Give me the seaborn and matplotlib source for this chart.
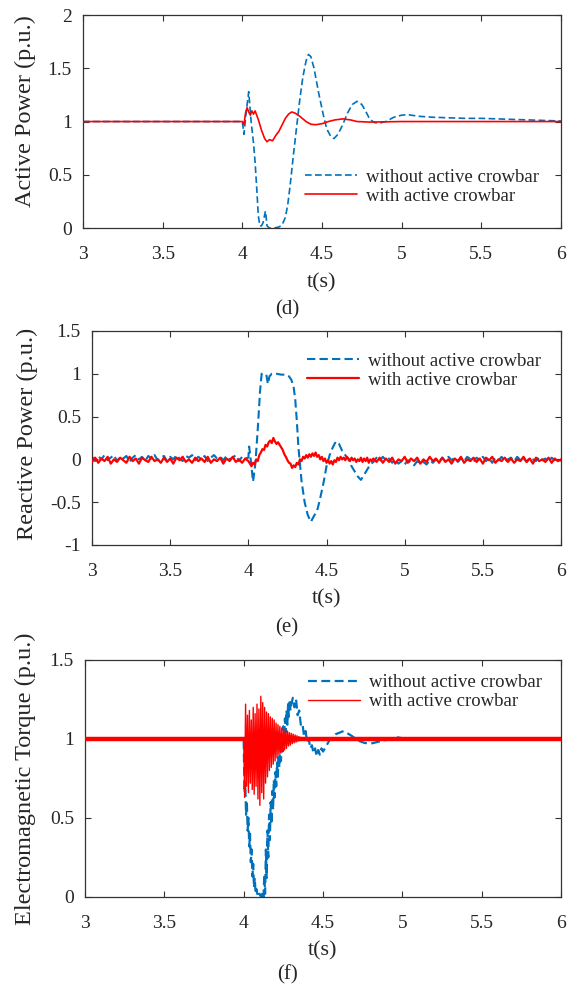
import numpy as np
import pandas as pd
import matplotlib
matplotlib.use("Agg")
import matplotlib.pyplot as plt
import seaborn as sns
from matplotlib.ticker import FuncFormatter

sns.set_theme(style="white")
plt.rcParams["font.family"] = ["Liberation Serif", "DejaVu Serif"]
plt.rcParams["axes.unicode_minus"] = False

BLUE = "#0072BD"
RED = "#FF0000"
LBL_WO = "without active crowbar"
LBL_W = "with active crowbar"

# ---- (d) active power ----
t_p_wo = [3.0, 4.0, 4.01, 4.025, 4.04, 4.055, 4.07, 4.08, 4.09, 4.10, 4.11, 4.12, 4.13,
          4.145, 4.155, 4.17, 4.20, 4.23, 4.25, 4.27, 4.285, 4.30, 4.32, 4.34, 4.36, 4.38,
          4.40, 4.415, 4.43, 4.45, 4.48, 4.51, 4.53, 4.555, 4.575, 4.60, 4.63, 4.66, 4.69,
          4.72, 4.75, 4.78, 4.80, 4.83, 4.86, 4.90, 4.95, 5.00, 5.04, 5.10, 5.20, 5.30,
          5.40, 5.50, 5.60, 5.70, 5.80, 5.90, 6.00]
p_wo = [1.0, 1.0, 0.88, 1.10, 1.28, 1.00, 0.80, 0.62, 0.38, 0.12, 0.02, 0.02, 0.05,
        0.16, 0.02, 0.0, 0.0, 0.01, 0.03, 0.10, 0.22, 0.40, 0.68, 0.94, 1.20, 1.42,
        1.57, 1.63, 1.61, 1.50, 1.26, 1.05, 0.93, 0.86, 0.84, 0.88, 0.97, 1.08, 1.16,
        1.19, 1.16, 1.08, 1.02, 0.99, 0.985, 1.0, 1.04, 1.06, 1.065, 1.05, 1.04, 1.035,
        1.03, 1.03, 1.025, 1.02, 1.015, 1.01, 1.005]

t_p_w = [3.0, 4.0, 4.01, 4.02, 4.03, 4.04, 4.05, 4.06, 4.07, 4.08, 4.09, 4.10, 4.12,
         4.14, 4.155, 4.17, 4.19, 4.21, 4.23, 4.25, 4.27, 4.29, 4.31, 4.33, 4.36, 4.40,
         4.43, 4.46, 4.50, 4.54, 4.58, 4.63, 4.68, 4.72, 4.80, 5.0, 6.0]
p_w = [1.0, 1.0, 0.97, 1.08, 1.13, 1.09, 1.06, 1.10, 1.07, 1.10, 1.06, 1.02, 0.92,
       0.84, 0.81, 0.83, 0.82, 0.87, 0.91, 0.97, 1.03, 1.07, 1.09, 1.08, 1.05, 1.0,
       0.975, 0.97, 0.98, 1.0, 1.015, 1.025, 1.015, 1.0, 0.995, 1.0, 1.0]

# ---- (e) reactive power ----
q_wo_pre = [0.03, -0.02, 0.04, 0.0, 0.05, -0.01, 0.02, 0.05, -0.02, 0.03, 0.01, 0.04,
            -0.03, 0.02, 0.05, 0.0, 0.03, -0.02, 0.04, 0.01, 0.05, -0.01, 0.02, 0.04,
            -0.02, 0.03, 0.0, 0.05, 0.01, -0.02, 0.04, 0.02, 0.05, -0.01, 0.03, 0.0,
            0.04, -0.02, 0.02, 0.05, 0.01, 0.03, -0.01, 0.04, 0.0, 0.02, 0.05, -0.02,
            0.03, 0.01]
t_q_wo_mid = [4.00, 4.005, 4.015, 4.03, 4.045, 4.06, 4.075, 4.085, 4.10, 4.115, 4.125,
              4.135, 4.15, 4.18, 4.21, 4.24, 4.26, 4.275, 4.29, 4.30, 4.31, 4.32, 4.34,
              4.36, 4.38, 4.40, 4.42, 4.44, 4.46, 4.48, 4.50, 4.52, 4.54, 4.56, 4.58,
              4.60, 4.62, 4.64, 4.66, 4.68, 4.70, 4.72, 4.74, 4.76, 4.78]
q_wo_mid = [0.02, 0.15, 0.0, -0.26, -0.05, 0.35, 0.80, 1.0, 1.0, 0.99, 0.88, 0.97, 1.0,
            1.0, 0.99, 0.99, 0.97, 0.93, 0.84, 0.70, 0.45, 0.15, -0.25, -0.50, -0.65,
            -0.73, -0.66, -0.60, -0.45, -0.28, -0.08, 0.05, 0.14, 0.21, 0.18, 0.10,
            0.05, 0.0, -0.08, -0.14, -0.20, -0.24, -0.18, -0.12, -0.06]
q_wo_post = [-0.03, 0.02, -0.02, 0.03, -0.01, 0.01, -0.04, 0.0, -0.05, -0.02, -0.06,
             -0.01, -0.04, -0.07, -0.02, -0.05, -0.03, -0.06, -0.01, -0.04, 0.0, -0.03,
             0.02, -0.02, 0.03, -0.01, 0.02, -0.03, 0.01, -0.02, 0.03, 0.0, -0.03, 0.02,
             -0.01, 0.03, -0.02, 0.01, -0.04, 0.02, -0.01, 0.03, -0.03, 0.0, 0.02, -0.02,
             0.03, -0.01, 0.01, -0.03, 0.02, 0.0, -0.02, 0.03, -0.01, 0.01, -0.03, 0.02,
             -0.01, 0.01, -0.02]

q_w_pre = [-0.03, 0.02, -0.04, 0.01, -0.02, 0.03, -0.05, 0.0, -0.03, 0.02, -0.01, -0.04,
           0.03, -0.02, 0.01, -0.05, 0.02, -0.01, -0.03, 0.03, -0.02, 0.0, -0.04, 0.02,
           -0.03, 0.01, -0.05, 0.02, -0.01, 0.03, -0.03, 0.0, -0.04, 0.02, -0.02, 0.01,
           -0.03, 0.03, -0.04, 0.0, -0.02, 0.02, -0.05, 0.01, -0.02, 0.03, -0.03, 0.0,
           -0.04, 0.01]
q_w_mid = [-0.02, -0.05, -0.08, -0.04, -0.06, 0.0, -0.02, 0.05, 0.08, 0.12, 0.11, 0.17,
           0.15, 0.20, 0.22, 0.19, 0.25, 0.21, 0.18, 0.20, 0.17, 0.14, 0.11, 0.06, 0.03,
           -0.01, -0.04, -0.05, -0.10, -0.07, -0.09, -0.04, -0.06, 0.0, -0.02, 0.03, 0.01,
           0.05, 0.02, 0.06, 0.03, 0.07, 0.04, 0.08, 0.03, 0.05, 0.0, 0.03, -0.02, 0.01,
           -0.04, -0.01, -0.05, -0.02, -0.06, -0.01, -0.03, 0.02, -0.01, 0.03, 0.0, 0.02,
           -0.01, 0.03, 0.01, -0.02, 0.02, -0.01, 0.01, -0.03, 0.0, -0.02, 0.02, -0.03,
           0.01, -0.02, 0.02, -0.04, 0.0, -0.02, 0.01]
q_w_post = [-0.03, 0.02, -0.04, 0.01, -0.03, 0.02, -0.05, 0.0, -0.02, 0.03, -0.04, 0.01,
            -0.02, 0.02, -0.05, 0.0, -0.03, 0.03, -0.02, 0.01, -0.04, 0.02, -0.03, 0.0,
            -0.05, 0.01, -0.02, 0.03, -0.04, 0.0, -0.02, 0.02, -0.03, 0.01, -0.05, 0.02,
            -0.01, 0.03, -0.04, 0.0, -0.02, 0.02, -0.03, 0.01, -0.04, 0.0, -0.02, 0.03,
            -0.03, 0.01, -0.05, 0.02, -0.02, 0.0, -0.03, 0.02, -0.04, 0.01, -0.02, 0.0]

# ---- (f) electromagnetic torque ----
t_tq_wo = [3.0, 4.0, 4.005, 4.01, 4.015, 4.02, 4.025, 4.03, 4.035, 4.04, 4.045, 4.05,
           4.055, 4.06, 4.065, 4.07, 4.075, 4.08, 4.09, 4.10, 4.11, 4.12, 4.125, 4.13,
           4.135, 4.14, 4.145, 4.15, 4.155, 4.16, 4.165, 4.17, 4.175, 4.18, 4.185, 4.19,
           4.195, 4.20, 4.205, 4.21, 4.215, 4.22, 4.225, 4.23, 4.235, 4.24, 4.245, 4.25,
           4.255, 4.26, 4.265, 4.27, 4.275, 4.28, 4.285, 4.29, 4.295, 4.30, 4.31, 4.32,
           4.33, 4.34, 4.35, 4.36, 4.37, 4.38, 4.39, 4.40, 4.41, 4.42, 4.43, 4.44, 4.45,
           4.46, 4.47, 4.48, 4.49, 4.50, 4.54, 4.58, 4.63, 4.68, 4.72, 4.76, 4.80, 4.84,
           4.88, 4.93, 4.97, 5.02, 6.0]
tq_wo = [1.0, 1.0, 0.66, 0.72, 0.52, 0.60, 0.42, 0.50, 0.32, 0.40, 0.22, 0.30, 0.13,
         0.21, 0.06, 0.12, 0.02, 0.05, 0.0, 0.02, 0.0, 0.03, 0.0, 0.14, 0.02, 0.30,
         0.12, 0.42, 0.25, 0.52, 0.36, 0.60, 0.46, 0.67, 0.55, 0.74, 0.63, 0.79, 0.70,
         0.85, 0.76, 0.90, 0.82, 0.95, 0.86, 1.02, 0.92, 1.08, 0.98, 1.13, 1.04, 1.18,
         1.09, 1.22, 1.14, 1.25, 1.18, 1.22, 1.26, 1.20, 1.25, 1.15, 1.18, 1.09, 1.10,
         1.02, 1.05, 0.98, 1.00, 0.94, 0.96, 0.91, 0.94, 0.89, 0.93, 0.90, 0.94, 0.92,
         0.99, 1.03, 1.05, 1.02, 0.99, 0.975, 0.97, 0.98, 0.99, 1.0, 1.01, 1.0, 1.0]

t_tq_band = [3.0, 6.0]
tq_band = [1.0, 1.0]

tq_w_osc = [1.0, 0.63, 1.22, 0.70, 1.15, 0.66, 1.18, 0.72, 1.12, 0.68, 1.20, 0.65,
            1.16, 0.70, 1.22, 0.62, 1.19, 0.58, 1.27, 0.66, 1.23, 0.62, 1.20, 0.72,
            1.17, 0.76, 1.16, 0.80, 1.14, 0.82, 1.13, 0.84, 1.12, 0.86, 1.10, 0.88,
            1.09, 0.90, 1.08, 0.91, 1.07, 0.92, 1.06, 0.93, 1.055, 0.94, 1.05, 0.955,
            1.04, 0.96, 1.035, 0.97, 1.03, 0.975, 1.025, 0.98, 1.02, 0.985, 1.015, 0.99,
            1.01, 1.0]


def series(t, v):
    return pd.DataFrame({"t": t, "v": v})


def draw(ax, df, color, lw, ls="-", label=None, z=2):
    sns.lineplot(data=df, x="t", y="v", ax=ax, color=color, lw=lw, linestyle=ls,
                 sort=False, estimator=None, label=label, zorder=z)


def style(ax, ylim, yticks, ylabel, lx, ly):
    ax.set_xlim(3, 6)
    ax.set_ylim(*ylim)
    ax.set_xticks([3, 3.5, 4, 4.5, 5, 5.5, 6])
    ax.set_yticks(yticks)
    fmt = FuncFormatter(lambda x, p: ("%g" % x))
    ax.xaxis.set_major_formatter(fmt)
    ax.yaxis.set_major_formatter(fmt)
    ax.tick_params(direction="in", top=True, right=True, bottom=True, left=True,
                   length=4, width=0.8, color="#333333", labelsize=14)
    ax.tick_params(axis="x", pad=13)
    ax.tick_params(axis="y", pad=8)
    for s in ax.spines.values():
        s.set_color("#333333")
        s.set_linewidth(0.9)
    ax.set_xlabel("t(s)", fontsize=16, labelpad=7)
    ax.set_ylabel(ylabel, fontsize=17.5)
    ax.yaxis.set_label_coords(lx, ly)
    ax.grid(False)


def legend(ax, x, y):
    ax.legend(loc="upper left", bbox_to_anchor=(x, y), frameon=False, fontsize=13.5,
              handlelength=2.8, handletextpad=0.45, labelspacing=0.1,
              borderaxespad=0, borderpad=0)


fig = plt.figure(figsize=(5.74, 9.91), dpi=100)
ax1 = fig.add_axes([0.1446, 0.7699, 0.8328, 0.2149])
ax2 = fig.add_axes([0.1603, 0.4501, 0.8171, 0.2159])
ax3 = fig.add_axes([0.1481, 0.0949, 0.8293, 0.2392])

dash = (0, (4, 2))

# (d)
draw(ax1, series(t_p_wo, p_wo), BLUE, 1.2, dash, LBL_WO)
draw(ax1, series(t_p_w, p_w), RED, 1.2, "-", LBL_W, 3)
style(ax1, (0, 2), [0, 0.5, 1, 1.5, 2], "Active Power (p.u.)", -0.098, 0.55)
legend(ax1, 0.464, 0.28)

# (e)
t_q_wo = list(np.linspace(3.0, 3.98, len(q_wo_pre))) + t_q_wo_mid + \
    list(np.linspace(4.80, 6.0, len(q_wo_post)))
v_q_wo = q_wo_pre + q_wo_mid + q_wo_post
t_q_w = list(np.linspace(3.0, 3.98, len(q_w_pre))) + \
    list(np.linspace(4.0, 4.80, len(q_w_mid))) + \
    list(np.linspace(4.82, 6.0, len(q_w_post)))
v_q_w = q_w_pre + q_w_mid + q_w_post
draw(ax2, series(t_q_wo, v_q_wo), BLUE, 1.5, dash, LBL_WO)
draw(ax2, series(t_q_w, v_q_w), RED, 1.6, "-", LBL_W, 3)
style(ax2, (-1, 1.5), [-1, -0.5, 0, 0.5, 1, 1.5], "Reactive Power (p.u.)", -0.115, 0.52)
legend(ax2, 0.458, 0.90)

# (f)
draw(ax3, series(t_tq_wo, tq_wo), BLUE, 1.6, dash, LBL_WO)
draw(ax3, series(t_tq_band, tq_band), RED, 3.2, "-", None, 3)
t_osc = list(np.linspace(4.0, 4.366, len(tq_w_osc)))
draw(ax3, series(t_osc, tq_w_osc), RED, 1.0, "-", LBL_W, 4)
style(ax3, (0, 1.5), [0, 0.5, 1, 1.5], "Electromagnetic Torque (p.u.)", -0.103, 0.5)
legend(ax3, 0.468, 0.94)

fig.text(0.5, 1 - 310 / 991, "(d)", ha="center", va="center", fontsize=15)
fig.text(0.5, 1 - 628 / 991, "(e)", ha="center", va="center", fontsize=15)
fig.text(0.5, 1 - 975 / 991, "(f)", ha="center", va="center", fontsize=15)

fig.savefig("out.png", dpi=100)
